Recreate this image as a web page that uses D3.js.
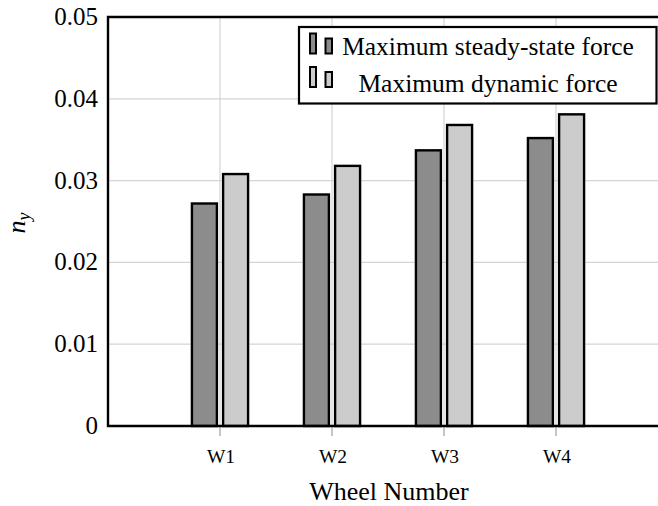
<!DOCTYPE html>
<html>
<head>
<meta charset="utf-8">
<script src="https://cdn.jsdelivr.net/npm/d3@7"></script>
<style>
  html, body { margin: 0; padding: 0; background: #fff; }
  svg { display: block; }
</style>
</head>
<body>
<svg id="chart" width="658" height="506"></svg>
<script>
const categories = ["W1", "W2", "W3", "W4"];
const seriesNames = ["Maximum steady-state force", "Maximum dynamic force"];
const steadyState = [0.0272, 0.0283, 0.0337, 0.0352];
const dynamicForce = [0.0308, 0.0318, 0.0368, 0.0381];
const yTicks = [0, 0.01, 0.02, 0.03, 0.04, 0.05];
const yTickLabels = ["0", "0.01", "0.02", "0.03", "0.04", "0.05"];
const xLabel = "Wheel Number";

(function () {
const FONT = "'Liberation Serif', 'Times New Roman', Times, 'DejaVu Serif', serif";
const colors = ["#8c8c8c", "#cccccc"];
const gridColor = "#d4d4d4";

const svg = d3.select("#chart")
  .attr("font-family", FONT)
  .style("font-family", FONT);
const leftX = 108, topY = 17, bottomY = 426;
const x = d3.scaleLinear().domain([0, 5]).range([leftX, 668]);
const y = d3.scaleLinear().domain([0, 0.05]).range([bottomY, topY]);

const unit = x(1) - x(0);
const barW = unit * 0.223;
const off = barW / 2 + 3.1;

function txt(sel) {
  return sel.attr("font-family", FONT).style("font-family", FONT).attr("fill", "#000");
}

// grid
const g = svg.append("g");
g.selectAll("line.hg").data(yTicks.slice(1, -1)).join("line")
  .attr("x1", leftX).attr("x2", 658)
  .attr("y1", d => y(d)).attr("y2", d => y(d))
  .attr("stroke", gridColor).attr("stroke-width", 1.2);
g.selectAll("line.vg").data(categories).join("line")
  .attr("x1", (d, i) => x(i + 1)).attr("x2", (d, i) => x(i + 1))
  .attr("y1", topY).attr("y2", bottomY)
  .attr("stroke", gridColor).attr("stroke-width", 1.2);
g.selectAll("line.xt").data(categories).join("line")
  .attr("x1", (d, i) => x(i + 1)).attr("x2", (d, i) => x(i + 1))
  .attr("y1", bottomY).attr("y2", bottomY + 10)
  .attr("stroke", "#a0a0a0").attr("stroke-width", 1.2);

// bars
const series = [steadyState, dynamicForce];
series.forEach((vals, s) => {
  svg.append("g").selectAll("rect").data(vals).join("rect")
    .attr("x", (d, i) => x(i + 1) + (s === 0 ? -off : off) - barW / 2)
    .attr("width", barW)
    .attr("y", d => y(d))
    .attr("height", d => y(0) - y(d))
    .attr("fill", colors[s])
    .attr("stroke", "#000")
    .attr("stroke-width", 2.4);
});

// axes frame
svg.append("path")
  .attr("d", `M658,${topY}H${leftX}V${bottomY}H658`)
  .attr("fill", "none").attr("stroke", "#000").attr("stroke-width", 2.4);

// y tick labels
txt(svg.append("g").selectAll("text").data(yTicks).join("text"))
  .attr("x", 98).attr("y", d => y(d) + 8)
  .attr("text-anchor", "end")
  .attr("font-size", 25)
  .text((d, i) => yTickLabels[i]);

// x tick labels
txt(svg.append("g").selectAll("text").data(categories).join("text"))
  .attr("x", (d, i) => x(i + 1) + 1).attr("y", 463)
  .attr("text-anchor", "middle")
  .attr("font-size", 19.5)
  .text(d => d);

// x axis label
txt(svg.append("text"))
  .attr("x", x(2.5) + 1).attr("y", 500)
  .attr("text-anchor", "middle")
  .attr("font-size", 26)
  .text(xLabel);

// y axis label n_y
const yl = txt(svg.append("text"))
  .attr("transform", `translate(25,223) rotate(-90)`)
  .attr("text-anchor", "middle")
  .attr("font-size", 26)
  .attr("font-style", "italic");
yl.append("tspan").text("n");
yl.append("tspan").attr("font-size", 18).attr("dy", 5).text("y");

// legend
const lg = svg.append("g");
lg.append("rect")
  .attr("x", 299).attr("y", 27).attr("width", 357.5).attr("height", 76.5)
  .attr("fill", "#fff").attr("stroke", "#000").attr("stroke-width", 2.2);
const rows = [{base: 55, bot: 53.5}, {base: 92, bot: 87}];
rows.forEach((r, s) => {
  lg.append("rect").attr("x", 310).attr("y", r.bot - 20).attr("width", 6).attr("height", 20)
    .attr("fill", colors[s]).attr("stroke", "#000").attr("stroke-width", 2);
  lg.append("rect").attr("x", 325.5).attr("y", r.bot - 15).attr("width", 6.5).attr("height", 15)
    .attr("fill", colors[s]).attr("stroke", "#000").attr("stroke-width", 2);
  txt(lg.append("text")).attr("x", 488).attr("y", r.base)
    .attr("text-anchor", "middle").attr("font-size", 25.5)
    .text(seriesNames[s]);
});
})();
</script>
</body>
</html>
